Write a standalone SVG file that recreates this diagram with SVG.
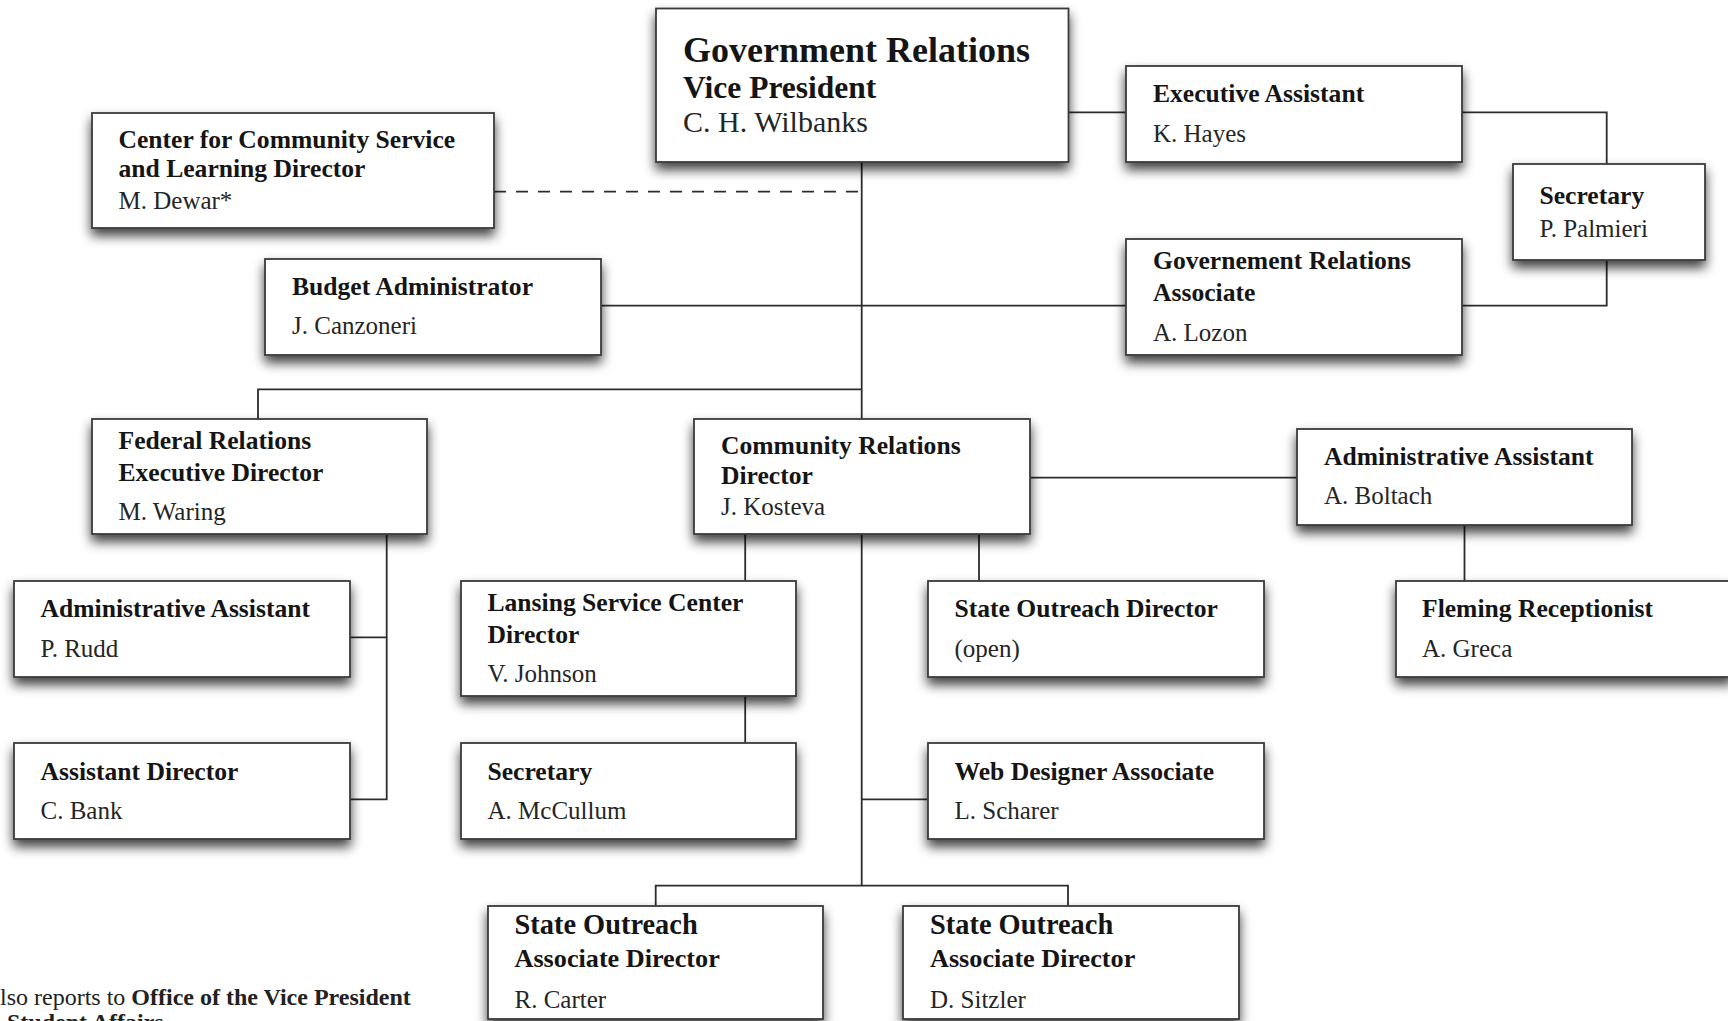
<svg xmlns="http://www.w3.org/2000/svg" width="1728" height="1021" viewBox="0 0 1728 1021">
<style>
.box{fill:#fff;stroke:#3a3a3a;stroke-width:1.8;filter:url(#sh)}
.t{font-family:"Liberation Serif","Times New Roman",serif;font-weight:bold;font-size:25.6px;fill:#151515}
.n{font-family:"Liberation Serif","Times New Roman",serif;font-size:25px;fill:#252525}
.c{fill:none;stroke:#2c2c2c;stroke-width:1.8}
.d{fill:none;stroke:#2c2c2c;stroke-width:1.8;stroke-dasharray:12 10}
.f{font-family:"Liberation Serif","Times New Roman",serif;font-size:24px;fill:#222}
</style>
<defs>
<filter id="sh" x="-10%" y="-20%" width="120%" height="160%">
<feDropShadow dx="0" dy="7" stdDeviation="6" flood-color="#000" flood-opacity="0.75"/>
</filter>
</defs>
<rect width="1728" height="1021" fill="#fff"/>
<g id="connectors">
<path class="c" d="M861.7 162V885.7"/>
<path class="d" d="M494 191.7H861.7"/>
<path class="c" d="M601 305.7H1126"/>
<path class="c" d="M1069 112.3H1126"/>
<path class="c" d="M1462 112.3H1606.7V164"/>
<path class="c" d="M1606.7 260V305.7H1462"/>
<path class="c" d="M861.7 389.3H258V419"/>
<path class="c" d="M386.7 534V799.3H350"/>
<path class="c" d="M386.7 637.3H350"/>
<path class="c" d="M745.2 534V581"/>
<path class="c" d="M745.2 696V743"/>
<path class="c" d="M979 534V581"/>
<path class="c" d="M1030 477.7H1297"/>
<path class="c" d="M1464.5 525V581"/>
<path class="c" d="M861.7 799.3H928"/>
<path class="c" d="M655.7 905.7V885.7H1068V905.7"/>
</g>
<g id="vp">
<rect class="box" x="656" y="8.5" width="412.5" height="153.5"/>
<text class="t" x="683" y="61.7" style="font-size:36px">Government Relations</text>
<text class="t" x="683" y="98.3" style="font-size:31.5px">Vice President</text>
<text class="n" x="683" y="131.7" style="font-size:30px">C. H. Wilbanks</text>
</g>
<g id="ccsl">
<rect class="box" x="92" y="113" width="402" height="115"/>
<text class="t" x="118.5" y="148.3">Center for Community Service</text>
<text class="t" x="118.5" y="176.7">and Learning Director</text>
<text class="n" x="118.5" y="209">M. Dewar*</text>
</g>
<g id="budget">
<rect class="box" x="265" y="259" width="336" height="96"/>
<text class="t" x="292" y="295">Budget Administrator</text>
<text class="n" x="292" y="334">J. Canzoneri</text>
</g>
<g id="exec">
<rect class="box" x="1126" y="66" width="336" height="96"/>
<text class="t" x="1153" y="101.7">Executive Assistant</text>
<text class="n" x="1153" y="141.7">K. Hayes</text>
</g>
<g id="sec1">
<rect class="box" x="1513" y="164" width="192" height="96"/>
<text class="t" x="1539.5" y="204">Secretary</text>
<text class="n" x="1539.5" y="237">P. Palmieri</text>
</g>
<g id="gra">
<rect class="box" x="1126" y="239" width="336" height="116"/>
<text class="t" x="1153" y="268.5">Governement Relations</text>
<text class="t" x="1153" y="300.5">Associate</text>
<text class="n" x="1153" y="340.5">A. Lozon</text>
</g>
<g id="federal">
<rect class="box" x="92" y="419" width="335" height="115"/>
<text class="t" x="118.5" y="448.5">Federal Relations</text>
<text class="t" x="118.5" y="480.7">Executive Director</text>
<text class="n" x="118.5" y="520">M. Waring</text>
</g>
<g id="rudd">
<rect class="box" x="14" y="581" width="336" height="96"/>
<text class="t" x="40.5" y="617.3">Administrative Assistant</text>
<text class="n" x="40.5" y="656.7">P. Rudd</text>
</g>
<g id="bank">
<rect class="box" x="14" y="743" width="336" height="96"/>
<text class="t" x="40.5" y="780">Assistant Director</text>
<text class="n" x="40.5" y="819.3">C. Bank</text>
</g>
<g id="community">
<rect class="box" x="694" y="419" width="336" height="115"/>
<text class="t" x="721" y="453.8">Community Relations</text>
<text class="t" x="721" y="483.5">Director</text>
<text class="n" x="721" y="515.3">J. Kosteva</text>
</g>
<g id="lansing">
<rect class="box" x="461" y="581" width="335" height="115"/>
<text class="t" x="487.5" y="610.8">Lansing Service Center</text>
<text class="t" x="487.5" y="642.8">Director</text>
<text class="n" x="487.5" y="681.8">V. Johnson</text>
</g>
<g id="sec2">
<rect class="box" x="461" y="743" width="335" height="96"/>
<text class="t" x="487.5" y="780">Secretary</text>
<text class="n" x="487.5" y="819.3">A. McCullum</text>
</g>
<g id="boltach">
<rect class="box" x="1297" y="429" width="335" height="96"/>
<text class="t" x="1324" y="464.5">Administrative Assistant</text>
<text class="n" x="1324" y="504.3">A. Boltach</text>
</g>
<g id="sod">
<rect class="box" x="928" y="581" width="336" height="96"/>
<text class="t" x="954.5" y="617.3">State Outreach Director</text>
<text class="n" x="954.5" y="656.7">(open)</text>
</g>
<g id="fleming">
<rect class="box" x="1396" y="581" width="336" height="96"/>
<text class="t" x="1422" y="617.3">Fleming Receptionist</text>
<text class="n" x="1422" y="656.7">A. Greca</text>
</g>
<g id="web">
<rect class="box" x="928" y="743" width="336" height="96"/>
<text class="t" x="954.5" y="780">Web Designer Associate</text>
<text class="n" x="954.5" y="819.3">L. Scharer</text>
</g>
<g id="carter">
<rect class="box" x="488" y="906" width="335" height="113"/>
<text class="t" x="514.5" y="934.3" style="font-size:28.4px">State Outreach</text>
<text class="t" x="514.5" y="967.3" style="font-size:26.2px">Associate Director</text>
<text class="n" x="514.5" y="1008.3">R. Carter</text>
</g>
<g id="sitzler">
<rect class="box" x="903" y="906" width="336" height="113"/>
<text class="t" x="930" y="934.3" style="font-size:28.4px">State Outreach</text>
<text class="t" x="930" y="967.3" style="font-size:26.2px">Associate Director</text>
<text class="n" x="930" y="1008.3">D. Sitzler</text>
</g>
<g id="footnote">
<text class="f" x="0" y="1005">lso reports to <tspan font-weight="bold">Office of  the Vice President</tspan></text>
<text class="f" x="7" y="1030" font-weight="bold">Student Affairs</text>
</g>
</svg>
